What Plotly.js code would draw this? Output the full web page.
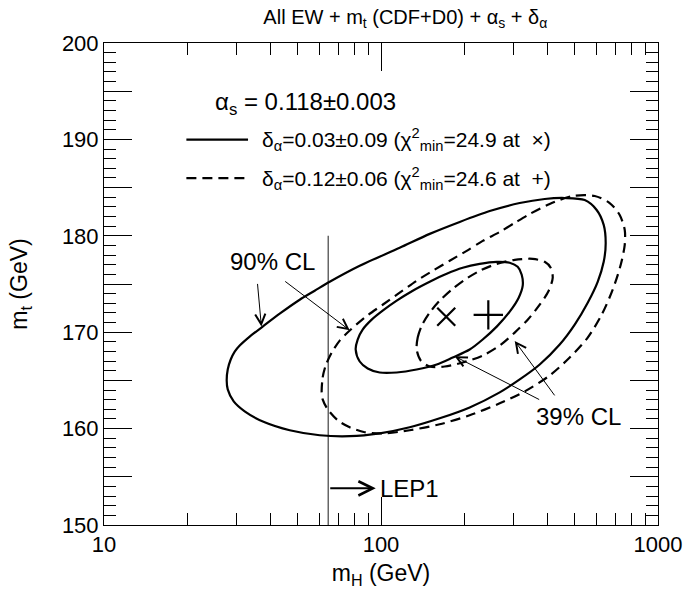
<!DOCTYPE html>
<html><head><meta charset="utf-8">
<script src="https://cdn.plot.ly/plotly-3.0.1.min.js"></script>
<style>html,body{margin:0;padding:0;background:#fff}#chart{width:687px;height:593px}</style>
</head><body><div id="chart"></div>
<script>
// 90% CL contour, solid (delta_alpha = 0.03 +- 0.09)
const solid90MH = [27.73, 27.97, 28.67, 29.64, 30.9, 33.57, 37.40, 43.08, 50.88, 57.63, 65.29, 83.78, 116.8, 149.9, 192.4, 246.9, 316.8, 389.9, 460.5, 543.8, 600.6, 636.8, 647.4, 636.8, 605.7, 557.5, 500.4, 441.7, 374.1, 316.8, 268.3, 209.0, 162.9, 126.9, 98.93, 77.1, 60.08, 46.82, 38.03, 32.2, 29.39, 27.97, 27.73];
const solid90MT = [164.99, 166.13, 167.17, 167.99, 168.62, 169.55, 170.58, 171.92, 173.37, 174.30, 175.23, 176.89, 178.75, 180.20, 181.44, 182.57, 183.40, 183.82, 183.92, 183.71, 182.68, 181.13, 179.27, 177.30, 175.23, 173.06, 170.79, 168.72, 166.65, 165.10, 163.76, 162.20, 161.07, 160.14, 159.51, 159.21, 159.31, 159.83, 160.65, 161.79, 162.82, 164.07, 164.99];
// 39% CL contour, solid
const solid39MH = [81.02, 82.37, 85.86, 92.56, 101.4, 113.96, 130.2, 149.9, 172.66, 197.2, 227.2, 261.7, 291.5, 311.5, 322.1, 324.8, 314.1, 291.5, 261.7, 232.9, 209.0, 181.5, 158.9, 134.5, 113.96, 98.93, 89.54, 83.78, 81.02];
const solid39MT = [168.20, 169.24, 170.27, 171.30, 172.23, 173.27, 174.30, 175.23, 176.06, 176.68, 177.09, 177.30, 177.20, 176.78, 175.96, 174.82, 173.58, 172.13, 170.58, 169.24, 168.20, 167.37, 166.65, 166.13, 165.82, 165.82, 166.24, 166.96, 168.20];
// 90% CL contour, dashed (delta_alpha = 0.12 +- 0.06)
const dash90MH = [61.07, 61.58, 63.15, 66.37, 70.95, 77.1, 88.07, 101.4, 116.8, 134.5, 153.7, 177.0, 203.9, 232.9, 268.3, 303.9, 344.3, 406.4, 492.2, 590.9, 669.2, 727.4, 758.4, 758.4, 733.5, 686.3, 626.3, 557.5, 480.0, 406.4, 330.3, 268.3, 209.0, 162.9, 126.9, 103.1, 87.35, 77.1, 69.8, 64.2, 61.58, 61.07];
const dash90MT = [163.76, 165.31, 166.55, 167.89, 169.13, 170.17, 171.61, 172.85, 174.10, 175.34, 176.37, 177.41, 178.44, 179.47, 180.40, 181.34, 182.26, 183.30, 184.13, 184.13, 183.40, 182.16, 180.61, 179.06, 176.99, 174.41, 171.82, 169.44, 167.37, 165.51, 163.86, 162.62, 161.38, 160.45, 159.83, 159.51, 159.62, 160.14, 160.86, 162.00, 163.03, 163.76];
// 39% CL contour, dashed
const dash39MH = [134.5, 135.7, 140.3, 149.9, 162.9, 180.0, 200.6, 227.2, 261.7, 303.9, 352.9, 389.9, 409.9, 416.8, 403.1, 374.1, 338.6, 303.9, 268.3, 232.9, 197.2, 169.8, 149.9, 139.1, 134.5];
const dash39MT = [168.20, 169.44, 170.68, 172.03, 173.27, 174.41, 175.44, 176.37, 177.09, 177.51, 177.61, 177.30, 176.68, 175.65, 174.30, 172.85, 171.30, 169.96, 168.62, 167.58, 166.86, 166.44, 166.44, 167.06, 168.20];
// best-fit points
const bestSolidMH = [172];
const bestSolidMT = [171.6];
const bestDashMH = [244];
const bestDashMT = [171.8];
// LEP1 lower limit on mH
const lepMH = [64.5, 64.5];
const lepMT = [150, 180];
// ticks
const xTickVals = [10, 100, 1000];
const xTickText = ['10', '100', '1000'];
const xMinorVals = [20, 30, 40, 50, 60, 70, 80, 90, 200, 300, 400, 500, 600, 700, 800, 900];
const yTickVals = [150, 155, 160, 165, 170, 175, 180, 185, 190, 195, 200];
const yTickText = ['150', '', '160', '', '170', '', '180', '', '190', '', '200'];

const FONT = 'Liberation Sans, Arial, Helvetica, sans-serif';
const DASH = '10px,6px';
const LW = 2.2;

const traces = [
  {x: lepMH, y: lepMT, mode: 'lines', line: {color: '#666', width: 1.5}, hoverinfo: 'skip'},
  {x: solid90MH, y: solid90MT, mode: 'lines', line: {color: '#000', width: LW, shape: 'spline', smoothing: 0.8}},
  {x: solid39MH, y: solid39MT, mode: 'lines', line: {color: '#000', width: LW, shape: 'spline', smoothing: 0.8}},
  {x: dash90MH, y: dash90MT, mode: 'lines', line: {color: '#000', width: LW, dash: DASH, shape: 'spline', smoothing: 0.8}},
  {x: dash39MH, y: dash39MT, mode: 'lines', line: {color: '#000', width: LW, dash: DASH, shape: 'spline', smoothing: 0.8}},
  {x: bestSolidMH, y: bestSolidMT, mode: 'markers', marker: {symbol: 'x-thin-open', size: 18, color: '#000', line: {color: '#000', width: LW}}},
  {x: bestDashMH, y: bestDashMT, mode: 'markers', marker: {symbol: 'cross-thin-open', size: 21, color: '#000', line: {color: '#000', width: LW}}}
];

const txt = (s) => ({size: s, family: FONT, color: '#000'});
const annotations = [
  {xref: 'paper', yref: 'paper', x: 0.196, y: 0.8746, xanchor: 'left', yanchor: 'middle', showarrow: false,
   text: 'α<sub>s</sub> = 0.118±0.003', font: txt(24)},
  {xref: 'paper', yref: 'paper', x: 0.281, y: 0.7994, xanchor: 'left', yanchor: 'middle', showarrow: false,
   text: 'δ<sub>α</sub>=0.03±0.09 (χ<sup>2</sup><sub>min</sub>=24.9 at  ×)', font: txt(21)},
  {xref: 'paper', yref: 'paper', x: 0.281, y: 0.7198, xanchor: 'left', yanchor: 'middle', showarrow: false,
   text: 'δ<sub>α</sub>=0.12±0.06 (χ<sup>2</sup><sub>min</sub>=24.6 at  +)', font: txt(21)},
  {x: 1.609, y: 177.35, showarrow: false, text: '90% CL', font: txt(24)},
  {x: 2.7137, y: 161.3, showarrow: false, text: '39% CL', font: txt(24)},
  {x: 1.5682, y: 170.6, ax: -4, ay: -44, text: '', showarrow: true, arrowhead: 5, arrowwidth: 1, arrowsize: 2, arrowcolor: '#000'},
  {x: 1.887, y: 170.2, ax: -66, ay: -50, text: '', showarrow: true, arrowhead: 5, arrowwidth: 1, arrowsize: 2, arrowcolor: '#000'},
  {x: 2.266, y: 167.5, ax: 86, ay: 44, text: '', showarrow: true, arrowhead: 5, arrowwidth: 1, arrowsize: 2, arrowcolor: '#000'},
  {x: 2.4827, y: 169.1, ax: 41, ay: 56, text: '', showarrow: true, arrowhead: 5, arrowwidth: 1, arrowsize: 2, arrowcolor: '#000'},
  {x: 1.981, y: 153.8, ax: -47, ay: 0, text: '', showarrow: true, arrowhead: 5, arrowwidth: 2, arrowsize: 1.4, arrowcolor: '#000'},
  {x: 1.989, y: 153.8, xanchor: 'left', yanchor: 'middle', showarrow: false, text: 'LEP1', font: txt(24)}
];

const shapes = [
  {type: 'line', xref: 'paper', yref: 'paper', x0: 0.1487, x1: 0.26, y0: 0.7994, y1: 0.7994, line: {color: '#000', width: LW}},
  {type: 'line', xref: 'paper', yref: 'paper', x0: 0.1487, x1: 0.26, y0: 0.7198, y1: 0.7198, line: {color: '#000', width: LW, dash: DASH}}
];

const layout = {
  width: 687, height: 593,
  margin: {l: 104, r: 29, t: 42.5, b: 68},
  paper_bgcolor: '#fff', plot_bgcolor: '#fff',
  font: {family: FONT, color: '#000'},
  showlegend: false,
  title: {text: 'All EW + m<sub>t</sub> (CDF+D0) + α<sub>s</sub> + δ<sub>α</sub>', font: txt(20),
          x: 0.59, xref: 'container', y: 0.972, yref: 'container', yanchor: 'middle', xanchor: 'center'},
  xaxis: {
    type: 'log', range: [1, 3], tickmode: 'array', tickvals: xTickVals, ticktext: xTickText,
    showline: true, linecolor: '#000', linewidth: 1, mirror: 'ticks',
    ticks: 'inside', ticklen: 28, tickwidth: 1, tickcolor: '#000',
    minor: {ticks: 'inside', ticklen: 12, tickwidth: 1, tickcolor: '#000', tickmode: 'array', tickvals: xMinorVals},
    showgrid: false, zeroline: false, tickfont: txt(22),
    title: {text: 'm<sub>H</sub> (GeV)', font: txt(23), standoff: 8}
  },
  yaxis: {
    range: [150, 200], tickmode: 'array', tickvals: yTickVals, ticktext: yTickText,
    showline: true, linecolor: '#000', linewidth: 1, mirror: 'ticks',
    ticks: 'inside', ticklen: 28, tickwidth: 1, tickcolor: '#000',
    minor: {ticks: 'inside', ticklen: 12, tickwidth: 1, tickcolor: '#000', tick0: 150, dtick: 1},
    showgrid: false, zeroline: false, tickfont: txt(22),
    title: {text: 'm<sub>t</sub> (GeV)', font: txt(23), standoff: 27}
  },
  annotations: annotations,
  shapes: shapes
};

Plotly.newPlot('chart', traces, layout, {displayModeBar: false});
</script>
</body></html>
